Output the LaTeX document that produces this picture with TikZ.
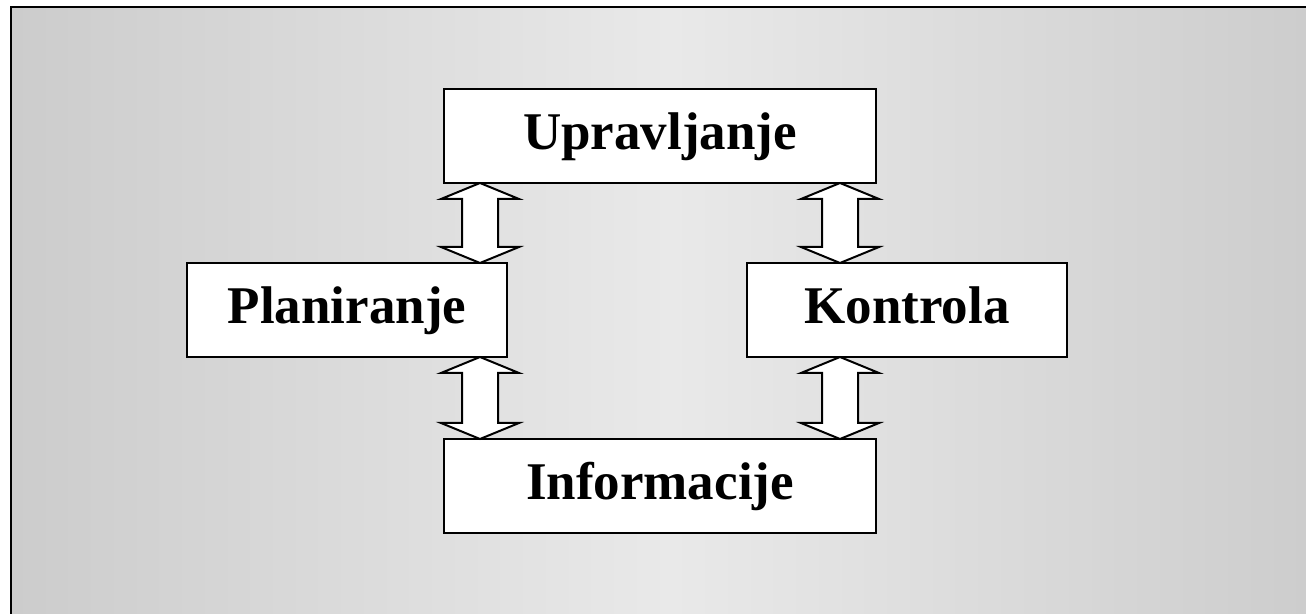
\documentclass[tikz,border=0pt]{standalone}
\usepackage{fontspec}
\setmainfont{Liberation Serif}
\usepackage{tikz}
\usetikzlibrary{positioning,calc}

\definecolor{bgedge}{RGB}{204,204,204}
\definecolor{bgmid}{RGB}{233,233,233}

\newcommand{\dblarrow}[2]{%
    \draw[dblarr] (#1) -- ++(39,-16) -- ++(-21,0) -- ($(#2)+(18,16)$) -- ++(21,0)
        -- (#2) -- ++(-39,16) -- ++(21,0) -- ($(#1)+(-18,-16)$) -- ++(-21,0) -- cycle;}

\begin{document}
\begin{tikzpicture}[
    x=1pt, y=1pt,
    node distance=80pt,
    box/.style={rectangle, draw, fill=white, line width=2pt, outer sep=0pt,
        minimum width=320pt, minimum height=94pt, text height=40pt, text depth=12pt,
        font=\fontsize{53}{60}\selectfont\bfseries},
    widebox/.style={box, minimum width=432pt},
    dblarr/.style={draw, fill=white, line width=2pt, line join=miter}
]
    \clip (0,0) rectangle (1306,613);
    \draw[line width=2.5pt, left color=bgedge, right color=bgedge, middle color=bgmid]
        (11,-20) rectangle (1330,606);

    \node[widebox] (upr) at (660,477) {Upravljanje};
    \node[box, below=80pt of upr, xshift=-313pt] (plan) {Planiranje};
    \node[box, below=80pt of upr, xshift=247pt] (kon) {Kontrola};
    \node[widebox, below=82pt of plan, xshift=313pt] (inf) {Informacije};

    \coordinate (a1) at ($(upr.south west)+(36,0)$);
    \coordinate (a2) at (plan.north -| a1);
    \coordinate (b1) at (plan.south -| a1);
    \coordinate (b2) at (inf.north -| a1);
    \coordinate (c1) at ($(upr.south east)+(-36,0)$);
    \coordinate (c2) at (kon.north -| c1);
    \coordinate (d1) at (kon.south -| c1);
    \coordinate (d2) at (inf.north -| c1);

    \dblarrow{a1}{a2}
    \dblarrow{b1}{b2}
    \dblarrow{c1}{c2}
    \dblarrow{d1}{d2}
\end{tikzpicture}
\end{document}
